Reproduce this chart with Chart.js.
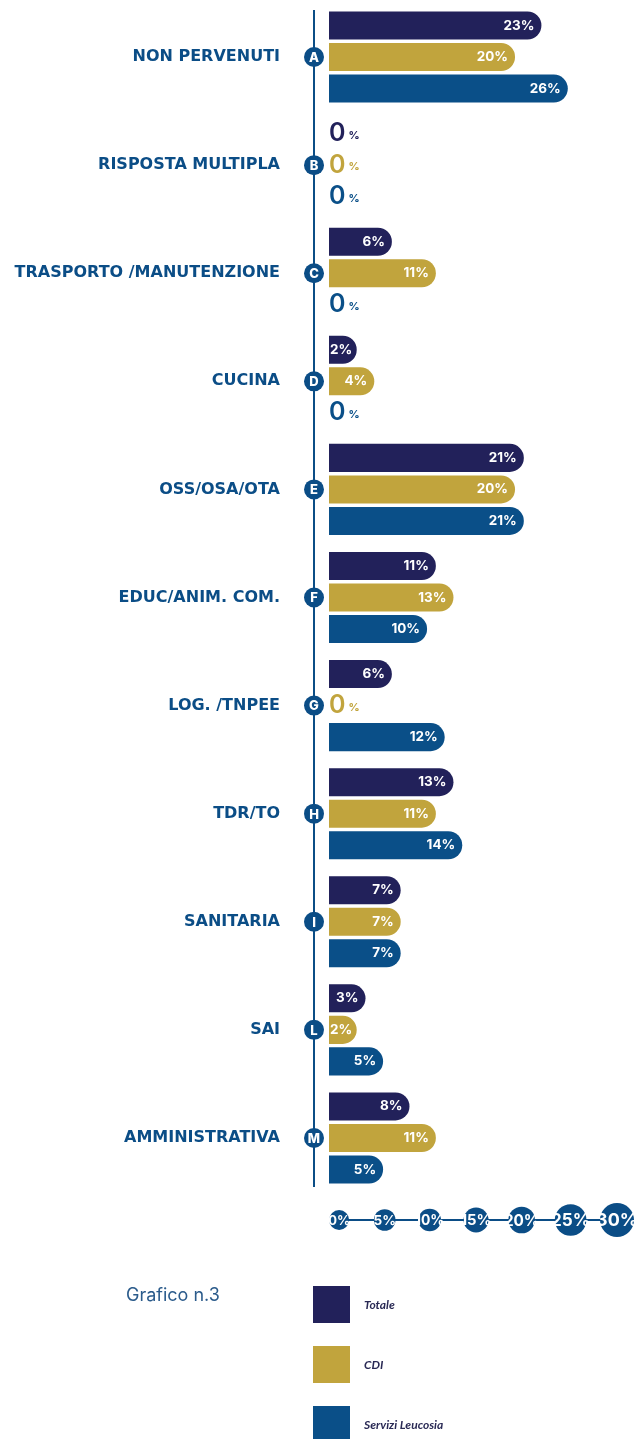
<!DOCTYPE html>
<html>
<head>
<meta charset="utf-8">
<script src="https://cdn.jsdelivr.net/npm/chart.js@4.4.1/dist/chart.umd.min.js"></script>
<style>
  body { margin: 0; background: #fff; }
  #grafico { display: block; }
</style>
</head>
<body>
<canvas id="grafico" width="638" height="1439"></canvas>
<script>
const categorie = ["NON PERVENUTI", "RISPOSTA MULTIPLA", "TRASPORTO /MANUTENZIONE", "CUCINA", "OSS/OSA/OTA",
  "EDUC/ANIM. COM.", "LOG. /TNPEE", "TDR/TO", "SANITARIA", "SAI", "AMMINISTRATIVA"];
const lettere = ["A", "B", "C", "D", "E", "F", "G", "H", "I", "L", "M"];
const serie = ["Totale", "CDI", "Servizi Leucosia"];
const totale = [23, 0, 6, 2, 21, 11, 6, 13, 7, 3, 8];
const cdi = [20, 0, 11, 4, 20, 13, 0, 11, 7, 2, 11];
const servizi = [26, 0, 0, 0, 21, 10, 12, 14, 7, 5, 5];
const tickValori = [0, 5, 10, 15, 20, 25, 30];

const colori = ["#22215a", "#c1a43d", "#0a4f88"];
const blu = "#0b4d86";
const fontNum = "Inter";
const inizio = -1.15; // le barre partono un po' prima dello 0, come nell'originale

// etichette dentro le barre (o "0%" se la barra e' vuota)
const etichette = {
  id: "etichette",
  afterDatasetsDraw(chart) {
    const ctx = chart.ctx;
    const x0 = chart.chartArea.left;
    ctx.save();
    ctx.textBaseline = "middle";
    chart.data.datasets.forEach((ds, d) => {
      const meta = chart.getDatasetMeta(d);
      meta.data.forEach((bar, i) => {
        const v = ds.data[i];
        if (v === 0) {
          ctx.fillStyle = colori[d];
          ctx.textAlign = "left";
          ctx.font = "600 25px " + fontNum;
          ctx.fillText("0", x0, bar.y);
          const w = ctx.measureText("0").width;
          ctx.font = "700 11px " + fontNum;
          ctx.fillText("%", x0 + w + 3, bar.y + 2);
        } else {
          ctx.fillStyle = "#fff";
          ctx.textAlign = "right";
          ctx.font = "700 13.5px " + fontNum;
          const tw = ctx.measureText(v + "%").width;
          ctx.fillText(v + "%", Math.max(bar.x - 7, x0 + tw + 1), bar.y);
        }
      });
    });
    ctx.restore();
  }
};

// asse verticale con lettere, asse orizzontale a cerchi, legenda
const decorazioni = {
  id: "decorazioni",
  beforeDatasetsDraw(chart) {
    const ctx = chart.ctx;
    const a = chart.chartArea;
    const ys = chart.scales.y;
    const xs = chart.scales.x;
    const lx = a.left - 15;
    ctx.save();
    ctx.strokeStyle = blu;
    ctx.lineWidth = 2;
    ctx.beginPath();
    ctx.moveTo(lx, a.top + 7);
    ctx.lineTo(lx, a.bottom - 5);
    ctx.stroke();

    // asse x a cerchi, sempre piu' grandi
    const raggi = [10, 10.8, 11.3, 12.5, 13.3, 15.8, 17];
    const yAsse = a.bottom + 28;
    const centri = tickValori.map((t, k) => xs.getPixelForValue(t) + (raggi[k] - 10) * 2);
    ctx.beginPath();
    ctx.moveTo(centri[0], yAsse);
    ctx.lineTo(centri[centri.length - 1], yAsse);
    ctx.stroke();
    ctx.textAlign = "center";
    ctx.textBaseline = "middle";
    tickValori.forEach((t, k) => {
      ctx.fillStyle = blu;
      ctx.beginPath();
      ctx.arc(centri[k], yAsse, raggi[k], 0, Math.PI * 2);
      ctx.fill();
      ctx.fillStyle = "#fff";
      ctx.font = "700 " + (13 + (raggi[k] - 10) * 0.7).toFixed(1) + "px " + fontNum;
      ctx.fillText(t + "%", centri[k], yAsse + 1);
    });

    // lettere
    lettere.forEach((l, i) => {
      const y = ys.getPixelForValue(i);
      ctx.fillStyle = blu;
      ctx.beginPath();
      ctx.arc(lx, y, 10, 0, Math.PI * 2);
      ctx.fill();
      ctx.fillStyle = "#fff";
      ctx.font = "800 13px " + fontNum;
      ctx.fillText(l, lx, y + 1);
    });

    // titolo e legenda
    ctx.textAlign = "left";
    ctx.fillStyle = "#2b5b8b";
    ctx.font = "400 18px " + fontNum;
    ctx.fillText("Grafico n.3", 126, 1296);
    chart.data.datasets.forEach((ds, d) => {
      const y = 1286 + d * 60;
      ctx.fillStyle = colori[d];
      ctx.fillRect(lx - 1, y, 37, 37);
      ctx.fillStyle = "#2a2a55";
      ctx.font = "italic 700 12px Lato";
      ctx.fillText(ds.label, 364, y + 19);
    });
    ctx.restore();
  }
};

function coloreBarra(d) {
  return (c) => (c.raw === 0 ? "rgba(0,0,0,0)" : colori[d]);
}

new Chart(document.getElementById("grafico"), {
  type: "bar",
  data: {
    labels: categorie,
    datasets: [
      { label: serie[0], data: totale, backgroundColor: coloreBarra(0) },
      { label: serie[1], data: cdi, backgroundColor: coloreBarra(1) },
      { label: serie[2], data: servizi, backgroundColor: coloreBarra(2) }
    ]
  },
  options: {
    indexAxis: "y",
    responsive: false,
    animation: false,
    devicePixelRatio: 1,
    categoryPercentage: 0.875,
    barPercentage: 0.89,
    base: inizio,
    borderRadius: 14,
    borderSkipped: "start",
    layout: { padding: { top: 3, right: 35, bottom: 247, left: 0 } },
    plugins: { legend: { display: false }, tooltip: { enabled: false } },
    scales: {
      x: { min: inizio, max: 30, display: false },
      y: {
        grid: { display: false, drawTicks: false },
        border: { display: false },
        afterFit(s) { s.width = 329; s.paddingTop = 0; s.paddingBottom = 0; },
        ticks: {
          padding: 49,
          color: blu,
          font: { family: "DejaVu Sans", size: 16, weight: "bold" }
        }
      }
    }
  },
  plugins: [decorazioni, etichette]
});
</script>
</body>
</html>
